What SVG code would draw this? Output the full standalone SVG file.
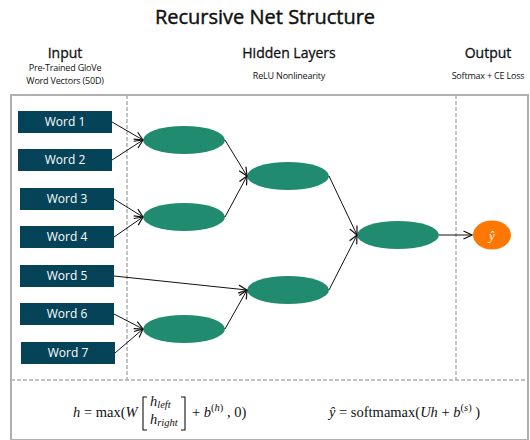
<svg xmlns="http://www.w3.org/2000/svg" width="530" height="440" viewBox="0 0 530 440">
  <style>
    .title { font-family: "Open Sans", "Noto Sans", sans-serif; font-size: 20px; fill: #111; stroke: #111; stroke-width: 0.45; text-anchor: middle; }
    .head { font-family: "Open Sans", "Noto Sans", sans-serif; font-size: 14px; fill: #111; stroke: #111; stroke-width: 0.3; text-anchor: middle; }
    .sub { font-family: "Open Sans", "Noto Sans", sans-serif; font-size: 9px; fill: #111; text-anchor: middle; letter-spacing: -0.2px; }
    .word rect { fill: #054359; }
    .word text { font-family: "Open Sans", "Noto Sans", sans-serif; font-size: 12px; fill: #ffffff; text-anchor: middle; }
    .hid { fill: #218b70; }
    .frame { fill: none; stroke: #b0b0b0; stroke-width: 2; }
    .dash { stroke: #b0b0b0; stroke-width: 1.5; stroke-dasharray: 4 2; fill: none; }
    .conn line { stroke: #111; stroke-width: 1; marker-end: url(#arr); }
    .math { font-family: "Liberation Serif", "DejaVu Serif", serif; font-size: 14.5px; fill: #111; }
    .mi { font-style: italic; }
  </style>
  <defs>
    <marker id="arr" viewBox="0 0 10 10" refX="9.5" refY="5" markerWidth="10" markerHeight="10" markerUnits="userSpaceOnUse" orient="auto">
      <path d="M1,1 L9.5,5 L1,9" fill="none" stroke="#111" stroke-width="1.2"/>
    </marker>
  </defs>

  <rect width="530" height="440" fill="#ffffff"/>

  <!-- headings -->
  <text class="title" x="265" y="24">Recursive Net Structure</text>
  <text class="head" x="65" y="58">Input</text>
  <text class="sub" x="65" y="71">Pre-Trained GloVe</text>
  <text class="sub" x="65" y="83.5">Word Vectors (50D)</text>
  <text class="head" x="289" y="58">Hidden Layers</text>
  <text class="sub" x="289" y="79">ReLU Nonlinearity</text>
  <text class="head" x="488" y="58">Output</text>
  <text class="sub" x="488" y="79">Softmax + CE Loss</text>

  <!-- frame -->
  <g id="frame">
    <rect class="frame" x="11" y="95" width="517" height="345"/>
    <line class="dash" x1="11" y1="95" x2="456" y2="95"/>
    <line class="dash" x1="127" y1="95" x2="127" y2="380"/>
    <line class="dash" x1="456" y1="95" x2="456" y2="380"/>
    <line class="dash" x1="11" y1="380" x2="528" y2="380"/>
  </g>

  <!-- input words -->
  <g id="word1" class="word"><rect x="18" y="111" width="94" height="22"/><text x="65" y="126">Word 1</text></g>
  <g id="word2" class="word"><rect x="18" y="149" width="94" height="22"/><text x="65" y="164">Word 2</text></g>
  <g id="word3" class="word"><rect x="20" y="188" width="94" height="22"/><text x="67" y="203">Word 3</text></g>
  <g id="word4" class="word"><rect x="20" y="226" width="94" height="22"/><text x="67" y="241">Word 4</text></g>
  <g id="word5" class="word"><rect x="20" y="265" width="94" height="22"/><text x="67" y="280">Word 5</text></g>
  <g id="word6" class="word"><rect x="20" y="303" width="94" height="22"/><text x="67" y="318">Word 6</text></g>
  <g id="word7" class="word"><rect x="21" y="342" width="94" height="22"/><text x="68" y="357">Word 7</text></g>

  <!-- hidden nodes -->
  <g id="h1"><ellipse class="hid" cx="184" cy="140" rx="41" ry="14"/></g>
  <g id="h2"><ellipse class="hid" cx="184" cy="217" rx="41" ry="14"/></g>
  <g id="h3"><ellipse class="hid" cx="184" cy="329" rx="41" ry="14"/></g>
  <g id="h4"><ellipse class="hid" cx="288" cy="176" rx="41" ry="14"/></g>
  <g id="h5"><ellipse class="hid" cx="288" cy="290" rx="41" ry="14"/></g>
  <g id="h6"><ellipse class="hid" cx="398" cy="235" rx="41" ry="14"/></g>

  <!-- output -->
  <g id="out">
    <ellipse cx="492" cy="235" rx="19" ry="14.5" fill="#fd7703"/>
    <text x="492" y="240" font-family="Liberation Serif, DejaVu Serif, serif" font-style="italic" font-size="13" fill="#ffffff" text-anchor="middle">ŷ</text>
  </g>

  <!-- connectors -->
  <g id="connectors" class="conn">
    <line x1="112" y1="122" x2="143" y2="140"/>
    <line x1="112" y1="160" x2="143" y2="140"/>
    <line x1="114" y1="199" x2="143" y2="217"/>
    <line x1="114" y1="237" x2="143" y2="217"/>
    <line x1="114" y1="276" x2="247" y2="290"/>
    <line x1="114" y1="314" x2="143" y2="329"/>
    <line x1="115" y1="353" x2="143" y2="329"/>
    <line x1="225" y1="140" x2="247" y2="176"/>
    <line x1="225" y1="217" x2="247" y2="176"/>
    <line x1="225" y1="329" x2="247" y2="290"/>
    <line x1="329" y1="176" x2="357" y2="235"/>
    <line x1="329" y1="290" x2="357" y2="235"/>
    <line x1="439" y1="235" x2="472" y2="235"/>
  </g>

  <!-- formulas -->
  <g id="formulas" class="math">
    <text x="73" y="417"><tspan class="mi">h</tspan> = max(<tspan class="mi">W</tspan></text>
    <path d="M147,397 h-4 v33 h4 M181,397 h4 v33 h-4" fill="none" stroke="#111" stroke-width="1.1"/>
    <text x="150" y="406"><tspan class="mi">h</tspan><tspan class="mi" font-size="10.5" dy="2">left</tspan></text>
    <text x="150" y="424"><tspan class="mi">h</tspan><tspan class="mi" font-size="10.5" dy="2">right</tspan></text>
    <text x="192" y="417">+ <tspan class="mi">b</tspan><tspan font-size="10.5" dy="-6">(<tspan class="mi">h</tspan>)</tspan><tspan dy="6"> , 0)</tspan></text>
    <text x="329" y="417"><tspan class="mi">ŷ</tspan> = softmamax(<tspan class="mi">Uh</tspan> + <tspan class="mi">b</tspan><tspan font-size="10.5" dy="-6">(<tspan class="mi">s</tspan>)</tspan><tspan dy="6"> )</tspan></text>
  </g>
</svg>
